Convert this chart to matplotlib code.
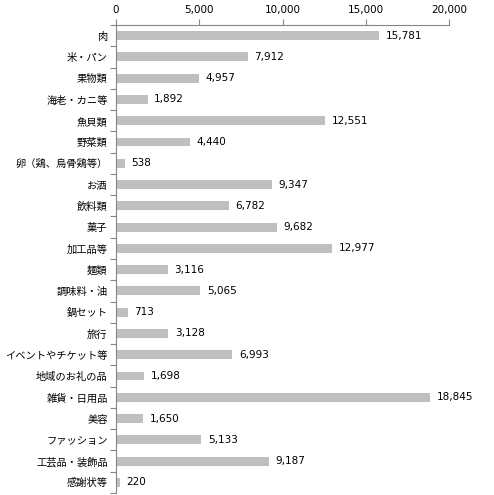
import matplotlib
matplotlib.use("Agg")
import matplotlib.pyplot as plt
import numpy as np
from matplotlib.ticker import FuncFormatter, FixedLocator

plt.rcParams['font.family'] = ['Noto Sans CJK JP', 'DejaVu Sans']

categories = ["肉", "米・パン", "果物類", "海老・カニ等", "魚貝類", "野菜類", "卵（鶏、烏骨鶏等）",
              "お酒", "飲料類", "菓子", "加工品等", "麺類", "調味料・油", "鍋セット", "旅行",
              "イベントやチケット等", "地域のお礼の品", "雑貨・日用品", "美容", "ファッション",
              "工芸品・装飾品", "感謝状等"]
values = [15781, 7912, 4957, 1892, 12551, 4440, 538, 9347, 6782, 9682, 12977, 3116,
          5065, 713, 3128, 6993, 1698, 18845, 1650, 5133, 9187, 220]
xticks = [0, 5000, 10000, 15000, 20000]

fig = plt.figure(figsize=(4.94, 4.95), dpi=100)
ax = fig.add_axes([116/494, 1-493/495, (449-116)/494, (493-25)/495])

y = np.arange(len(categories))
ax.barh(y, values, height=0.42, color="#BFBFBF", zorder=2)
ax.set_ylim(len(categories)-0.5, -0.5)
ax.set_xlim(0, 20000)

for yi, v in zip(y, values):
    ax.text(v + 400, yi, f"{v:,}", va="center", ha="left", fontsize=7.5,
            family="DejaVu Sans", color="#000000")

ax.xaxis.tick_top()
ax.set_xticks(xticks)
ax.xaxis.set_major_formatter(FuncFormatter(lambda v, p: f"{int(v):,}"))
ax.tick_params(axis='x', length=4, width=0.8, color="#868686", labelsize=7.5, pad=3)
for lab in ax.get_xticklabels():
    lab.set_family("DejaVu Sans")

ax.set_yticks(y)
ax.set_yticklabels(categories, fontsize=7.4)
ax.tick_params(axis='y', which='major', length=0, pad=6)
ax.yaxis.set_minor_locator(FixedLocator(np.arange(-0.5, len(categories), 1.0)))
ax.tick_params(axis='y', which='minor', length=4, width=0.8, color="#868686")

for s in ["right", "bottom"]:
    ax.spines[s].set_visible(False)
for s in ["left", "top"]:
    ax.spines[s].set_color("#868686")
    ax.spines[s].set_linewidth(0.8)

fig.savefig("out.png", dpi=100)
